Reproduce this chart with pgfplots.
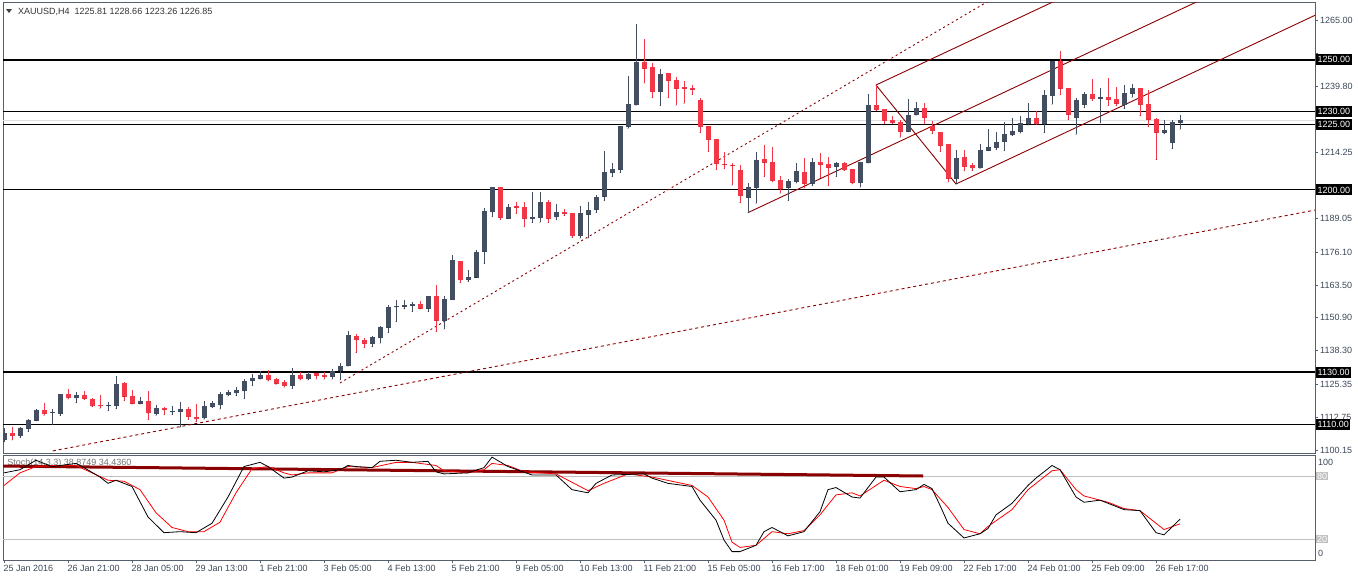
\documentclass[border=0pt]{standalone}
\usepackage{pgfplots}
\pgfplotsset{compat=1.18}
\usepackage{pgfplotstable}
\usepackage{fontspec}
\setmainfont{Liberation Sans}
\definecolor{bull}{RGB}{67,79,96}
\definecolor{bear}{RGB}{242,56,70}
\definecolor{tl}{RGB}{139,0,0}
\definecolor{frame}{RGB}{85,96,108}
\definecolor{lbl}{RGB}{60,72,88}
\definecolor{lvl}{RGB}{192,192,192}

\pgfplotstableread{
i o h l c
0 1104.0 1108.5 1103.3 1106.6
2 1105.5 1109.1 1104.9 1108.6
3 1108.3 1112.1 1107.2 1111.7
4 1111.4 1115.9 1111.4 1115.5
6 1114.4 1116.0 1109.9 1114.6
7 1114.1 1121.7 1113.3 1121.7
9 1120.1 1122.5 1118.3 1121.3
13 1117.2 1118.7 1115.2 1117.4
14 1117.0 1128.7 1116.0 1125.5
17 1117.9 1120.5 1117.8 1119.0
19 1114.1 1117.3 1113.5 1116.2
21 1114.6 1117.0 1113.7 1115.2
22 1114.9 1118.6 1108.9 1115.9
25 1112.4 1119.1 1111.9 1117.0
26 1116.7 1118.9 1116.3 1118.3
27 1117.4 1122.3 1115.9 1121.7
28 1121.3 1123.1 1120.9 1122.4
29 1122.0 1124.5 1121.0 1123.2
30 1122.8 1127.5 1119.9 1126.6
31 1126.6 1129.3 1124.8 1127.8
32 1127.5 1130.4 1127.3 1129.0
36 1124.8 1131.8 1123.6 1129.0
38 1127.4 1130.2 1127.0 1129.3
41 1128.3 1131.3 1127.3 1130.4
42 1130.4 1133.7 1127.0 1132.4
43 1132.4 1145.9 1132.4 1144.3
46 1141.0 1143.9 1139.8 1143.5
47 1143.3 1147.8 1141.1 1147.4
48 1147.1 1155.8 1145.2 1155.2
49 1154.9 1157.8 1149.4 1155.4
50 1155.2 1157.8 1154.4 1155.8
51 1155.6 1157.1 1153.3 1156.2
53 1154.4 1159.3 1153.3 1159.3
55 1149.8 1159.3 1146.6 1158.1
56 1157.8 1175.0 1157.8 1173.1
58 1165.4 1169.3 1164.7 1166.6
59 1166.3 1177.0 1166.3 1176.2
60 1176.3 1193.0 1171.7 1191.9
61 1191.5 1201.0 1189.7 1201.0
63 1188.9 1194.6 1188.9 1193.6
66 1188.9 1199.2 1187.4 1189.6
67 1189.4 1199.2 1187.6 1195.3
69 1189.6 1194.6 1188.5 1191.5
72 1182.3 1193.8 1181.4 1191.2
73 1190.5 1195.3 1181.4 1192.3
74 1192.3 1198.1 1191.3 1197.3
75 1197.4 1215.0 1195.8 1206.8
76 1206.5 1210.2 1205.1 1208.1
77 1207.8 1224.6 1206.6 1224.6
78 1224.3 1243.8 1223.7 1233.0
79 1232.6 1263.7 1232.6 1249.1
82 1237.7 1246.3 1232.4 1244.4
93 1197.0 1202.6 1191.3 1201.0
94 1200.9 1214.5 1194.9 1211.5
98 1200.9 1204.1 1195.9 1203.3
99 1203.1 1210.2 1202.6 1207.3
101 1202.4 1212.4 1201.6 1210.7
104 1208.9 1210.9 1205.1 1210.4
107 1202.8 1210.6 1201.0 1210.6
108 1210.5 1236.9 1210.2 1232.5
113 1222.4 1234.8 1222.2 1228.8
114 1228.9 1233.8 1228.7 1231.5
119 1204.3 1215.4 1202.3 1212.3
122 1208.3 1217.7 1208.3 1215.4
123 1215.1 1223.4 1215.1 1216.5
124 1216.1 1222.3 1215.4 1218.4
125 1218.5 1226.1 1215.1 1221.5
126 1221.1 1227.6 1220.8 1222.7
127 1222.4 1228.4 1221.8 1225.7
128 1225.3 1233.3 1224.8 1227.6
130 1225.3 1238.4 1222.0 1236.5
131 1236.1 1249.5 1232.9 1249.5
134 1227.6 1235.3 1221.4 1234.6
135 1232.7 1237.6 1231.6 1236.9
137 1235.0 1239.2 1225.7 1235.7
140 1232.5 1240.3 1231.2 1237.2
141 1237.0 1240.7 1235.6 1239.2
145 1222.0 1226.9 1221.6 1223.0
146 1218.2 1227.0 1215.9 1226.1
147 1225.81 1228.66 1223.26 1226.85
}\bulltab

\pgfplotstableread{
i o h l c
1 1106.6 1108.9 1104.0 1105.5
5 1115.5 1118.3 1113.5 1114.0
8 1121.7 1123.6 1119.7 1120.1
10 1121.3 1122.8 1119.4 1119.9
11 1119.7 1120.1 1116.8 1117.0
12 1117.4 1121.2 1116.2 1116.9
15 1126.0 1126.3 1119.1 1120.6
16 1120.9 1123.2 1117.7 1117.9
18 1119.0 1122.8 1111.7 1114.2
20 1116.2 1116.8 1113.7 1115.5
23 1115.9 1116.8 1111.7 1112.9
24 1112.7 1117.8 1111.0 1111.9
33 1129.0 1130.9 1126.6 1127.0
34 1127.5 1127.9 1125.4 1125.6
35 1126.1 1126.9 1124.2 1124.8
37 1129.0 1130.2 1127.0 1127.4
39 1129.6 1129.8 1127.3 1128.7
40 1129.0 1130.0 1127.3 1128.3
44 1143.9 1144.7 1137.5 1142.4
45 1142.4 1143.0 1139.4 1141.0
52 1156.2 1157.4 1154.3 1154.4
54 1159.3 1163.5 1145.6 1149.8
57 1172.7 1172.7 1164.4 1165.4
62 1201.0 1201.0 1188.5 1189.4
64 1193.8 1195.3 1190.9 1193.2
65 1193.5 1195.3 1185.8 1188.9
68 1195.3 1196.2 1187.4 1189.0
70 1191.7 1192.7 1190.1 1190.9
71 1191.2 1191.2 1181.7 1182.3
80 1249.1 1258.0 1241.0 1246.6
81 1247.2 1248.8 1235.4 1237.7
83 1244.9 1244.9 1235.4 1242.0
84 1242.2 1243.4 1232.5 1238.9
85 1239.5 1241.8 1233.3 1238.9
86 1239.2 1240.3 1236.6 1238.5
87 1234.6 1235.3 1222.0 1224.3
88 1224.6 1224.6 1214.7 1219.3
89 1219.6 1219.6 1207.7 1210.0
90 1210.1 1214.6 1208.1 1209.7
91 1209.7 1210.5 1201.9 1209.3
92 1207.7 1209.6 1195.1 1197.7
95 1211.9 1217.2 1205.1 1210.5
96 1210.6 1216.5 1203.0 1203.6
97 1203.7 1205.5 1198.7 1200.4
100 1206.8 1212.4 1200.6 1202.4
102 1210.7 1214.1 1204.5 1209.6
103 1210.0 1212.8 1201.6 1208.6
105 1210.2 1210.9 1207.4 1207.7
106 1208.1 1208.1 1202.3 1202.8
109 1232.5 1240.3 1230.3 1230.7
110 1231.1 1231.1 1225.2 1226.6
111 1227.0 1228.3 1225.2 1225.8
112 1226.1 1227.0 1220.2 1222.4
115 1231.5 1233.3 1225.3 1227.8
116 1224.5 1226.5 1221.6 1222.7
117 1222.3 1222.3 1214.7 1216.9
118 1217.7 1217.7 1203.0 1204.3
120 1212.7 1215.4 1207.3 1208.9
121 1209.5 1210.2 1207.4 1208.3
129 1227.6 1230.3 1225.1 1225.3
132 1249.5 1253.4 1236.4 1238.9
133 1239.2 1239.2 1227.0 1228.9
136 1236.9 1242.6 1234.2 1235.0
138 1235.7 1243.0 1232.4 1234.7
139 1234.9 1239.5 1232.4 1233.1
142 1239.2 1239.2 1228.5 1232.7
143 1233.0 1238.4 1224.3 1227.0
144 1227.3 1227.8 1211.6 1222.0
}\beartab

\pgfplotstableread{
i k
0 83
2 86
4 95
5 92
6 89
9 92
10 88
12 79
13 73
14 76
16 70
18 41
20 26
22 27
24 26
26 35
28 60
30 89
32 93
33 89
35 78
36 79
38 85
40 84
42 86
43 90
44 89
46 88
47 94
49 95
51 93
53 94
54 84
55 82
58 83
60 88
61 98
63 89
66 81
69 81
71 67
73 64
74 73
76 81
80 82
81 78
83 73
86 70
87 57
89 38
90 19
91 8
92 8
94 14
95 27
96 31
98 23
100 27
102 46
103 67
104 69
106 60
107 59
109 79
110 79
112 65
114 67
115 72
116 68
117 52
118 35
120 21
122 25
123 30
124 43
126 54
128 71
129 78
131 90
132 86
134 60
135 55
137 57
140 48
142 47
144 26
145 24
147 38.87
}\ktab

\pgfplotstableread{
i d
0 71
2 83
4 89
6 90
9 90
11 83
13 76
15 75
17 67
19 45
21 31
23 27
25 27
27 36
29 64
31 87
33 89
35 83
36 81
38 83
41 83
43 89
46 88
49 93
51 93
52 92
54 90
55 85
58 83
60 86
61 92
63 90
65 84
69 82
72 70
73 66
75 73
78 82
81 79
86 71
88 60
90 38
91 17
92 12
94 14
96 27
98 25
100 28
102 43
104 62
106 64
107 61
110 76
112 70
114 68
115 70
116 67
118 50
120 29
122 25
123 32
126 48
128 67
131 85
132 86
134 67
135 61
138 55
140 49
142 47
145 29
147 34.44
}\dtab

\pgfplotsset{
  candle/.style={only marks, mark=*, mark size=0.01pt, mark options={draw=none, fill=none},
    forget plot, error bars/.cd, y dir=plus, y explicit, error mark=none},
}

\begin{document}
\begin{tikzpicture}[font=\fontsize{9}{10}\selectfont]
\path[use as bounding box] (0,0) rectangle (1358pt,-581pt);
\fill[white] (0,0) rectangle (1358pt,-581pt);

% ---------------- main price panel ----------------
\begin{axis}[
  at={(3pt,-453pt)}, anchor=south west,
  scale only axis, width=1312pt, height=451pt,
  xmin=-0.125, xmax=163.875, ymin=1099.0, ymax=1272.18,
  axis line style={frame, line width=0.9pt},
  xtick=\empty,
  ytick={1265,1252.4,1239.8,1227.2,1214.25,1201.65,1189.05,1176.1,1163.5,1150.9,1138.3,1125.35,1112.75,1100.15},
  yticklabels={1265.00,,1239.80,,1214.25,,1189.05,1176.10,1163.50,1150.90,1138.30,1125.35,1112.75,1100.15},
  ytick pos=right, yticklabel pos=right,
  tick align=outside, major tick length=3pt,
  tick style={frame, line width=0.8pt},
  yticklabel style={text=lbl, anchor=west, inner sep=0pt, xshift=2pt},
  clip=true,
]
% bid line
\addplot[black!12, line width=0.6pt, forget plot] coordinates {(-1,1226.85) (170,1226.85)};
% level lines
\addplot[black, line width=2pt, forget plot] coordinates {(-1,1250) (170,1250)};
\addplot[black, line width=1pt, forget plot] coordinates {(-1,1230) (170,1230)};
\addplot[black, line width=1pt, forget plot] coordinates {(-1,1225) (170,1225)};
\addplot[black, line width=1pt, forget plot] coordinates {(-1,1200) (170,1200)};
\addplot[black, line width=2pt, forget plot] coordinates {(-1,1130) (170,1130)};
\addplot[black, line width=1pt, forget plot] coordinates {(-1,1110) (170,1110)};
% trend lines
\addplot[tl, line width=0.9pt, dash pattern=on 2pt off 3pt, forget plot] coordinates {(42,1125.9) (130,1285.1)};
\addplot[tl, line width=0.9pt, dash pattern=on 3pt off 3pt, forget plot] coordinates {(6.1,1099.8) (163.9,1192.3)};
\addplot[tl, line width=0.9pt, forget plot] coordinates {(93,1191.3) (165,1295.2)};
\addplot[tl, line width=0.9pt, forget plot] coordinates {(109,1240.3) (165,1321.1)};
\addplot[tl, line width=0.9pt, forget plot] coordinates {(119,1202.3) (165,1268.7)};
\addplot[tl, line width=0.9pt, forget plot] coordinates {(109,1240.3) (119,1202.3)};
% wicks
\addplot[candle, error bar style={line width=1pt, color=bull}]
  table[x=i, y=l, y error plus expr=\thisrow{h}-\thisrow{l}] {\bulltab};
\addplot[candle, error bar style={line width=1pt, color=bear}]
  table[x=i, y=l, y error plus expr=\thisrow{h}-\thisrow{l}] {\beartab};
% bodies
\addplot[candle, error bar style={line width=5pt, color=bull, line cap=butt}]
  table[x=i, y=o, y error plus expr={max(\thisrow{c}-\thisrow{o},0.35)}] {\bulltab};
\addplot[candle, error bar style={line width=5pt, color=bear, line cap=butt}]
  table[x=i, y=c, y error plus expr={max(\thisrow{o}-\thisrow{c},0.35)}] {\beartab};

\coordinate (A1250) at (axis cs:163.875,1250);
\coordinate (A1230) at (axis cs:163.875,1230);
\coordinate (A1225) at (axis cs:163.875,1225);
\coordinate (A1200) at (axis cs:163.875,1200);
\coordinate (A1130) at (axis cs:163.875,1130);
\coordinate (A1110) at (axis cs:163.875,1110);
\end{axis}

% ---------------- stochastic panel ----------------
\begin{axis}[
  at={(3pt,-560pt)}, anchor=south west,
  scale only axis, width=1312pt, height=105pt,
  xmin=-0.125, xmax=163.875, ymin=0, ymax=100,
  axis line style={frame, line width=0.9pt},
  ytick=\empty,
  xtick={0,8,...,144},
  xticklabels={25 Jan 2016,26 Jan 21:00,28 Jan 05:00,29 Jan 13:00,1 Feb 21:00,3 Feb 05:00,4 Feb 13:00,5 Feb 21:00,9 Feb 05:00,10 Feb 13:00,11 Feb 21:00,15 Feb 05:00,16 Feb 17:00,18 Feb 01:00,19 Feb 09:00,22 Feb 17:00,24 Feb 01:00,25 Feb 09:00,26 Feb 17:00},
  xtick pos=bottom, tick align=outside, major tick length=3pt,
  tick style={frame, line width=0.8pt},
  xticklabel style={text=lbl, anchor=north west, inner sep=0pt, xshift=-0.5pt, yshift=-2pt},
  clip=true,
]
\node[anchor=west, text=black!55, inner sep=0pt] at (axis cs:0.4,92) {Stoch(14,3,3) 38.8749 34.4360};
\addplot[lvl, line width=0.8pt, forget plot] coordinates {(-1,80) (170,80)};
\addplot[lvl, line width=0.8pt, forget plot] coordinates {(-1,20) (170,20)};
\addplot[tl, line width=3pt, forget plot] coordinates {(-0.5,89.5) (114.9,80)};
\addplot[red, line width=0.8pt, forget plot] table[x=i, y=d] {\dtab};
\addplot[black, line width=0.8pt, forget plot] table[x=i, y=k] {\ktab};
\coordinate (S80) at (axis cs:163.875,80);
\coordinate (S20) at (axis cs:163.875,20);
\end{axis}

% ---------------- labels ----------------
\fill[black!75] (6pt,-9pt) -- (12pt,-9pt) -- (9pt,-13pt) -- cycle;
\node[anchor=west, inner sep=0pt, text=black!80] at (18pt,-11.5pt) {XAUUSD,H4\ \ 1225.81 1228.66 1223.26 1226.85};

\foreach \n/\t in {A1250/1250.00,A1230/1230.00,A1225/1225.00,A1200/1200.00,A1130/1130.00,A1110/1110.00}{
  \node[fill=black, text=white, anchor=west, inner xsep=1.5pt, inner ysep=1.2pt, minimum height=11pt] at ([xshift=1pt]\n) {\t};
}
\node[fill=lvl, text=white, anchor=west, inner xsep=1pt, inner ysep=1pt] at ([xshift=1pt]S80) {80};
\node[fill=lvl, text=white, anchor=west, inner xsep=1pt, inner ysep=1pt] at ([xshift=1pt]S20) {20};
\node[anchor=west, text=lbl, inner sep=0pt] at (1318pt,-462pt) {100};
\node[anchor=west, text=lbl, inner sep=0pt] at (1318pt,-553pt) {0};
\end{tikzpicture}
\end{document}
